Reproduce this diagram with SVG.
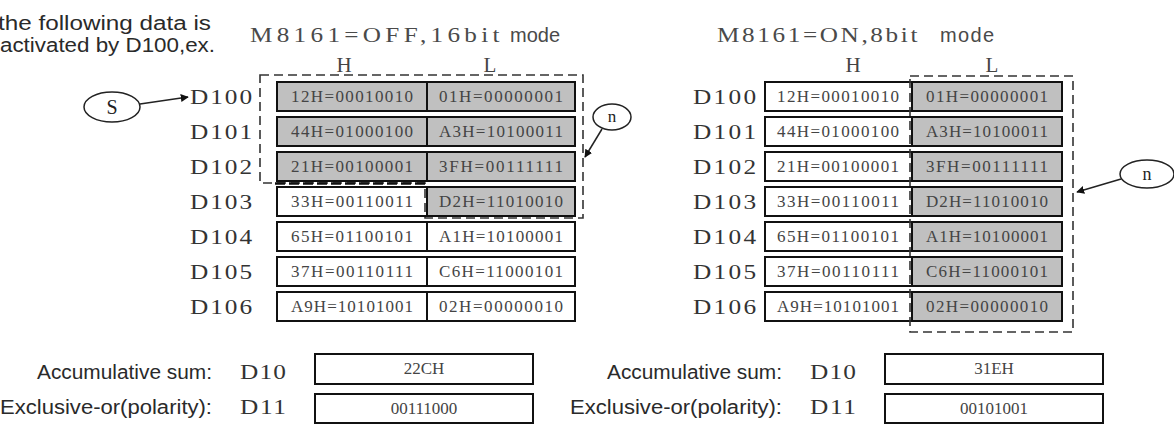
<svg xmlns="http://www.w3.org/2000/svg" width="1174" height="428" viewBox="0 0 1174 428">
<style>
.serif{font-family:"Liberation Serif","Times New Roman",serif}
.sans{font-family:"Liberation Sans",Arial,sans-serif}
.cell{stroke:#111;stroke-width:2}
.g{fill:#c0c0c0}
.w{fill:#fff}
.ct{font-size:17px;fill:#444;text-anchor:middle}
.dl{font-size:22px;fill:#333}
.hd{font-size:21px;fill:#444;text-anchor:middle}
.lab{font-size:20px;fill:#2a2a2a}
.ttl{font-size:21px;fill:#4a4a4a}
.dash{fill:none;stroke:#333;stroke-width:1.6;stroke-dasharray:9 5}
.dashb{fill:none;stroke:#111;stroke-width:2.6;stroke-dasharray:10 4}
.ell{fill:#fff;stroke:#222;stroke-width:1.5}
.conn{fill:none;stroke:#222;stroke-width:1.5}
</style>
<defs>
<marker id="ah" viewBox="0 0 10 10" refX="9" refY="5" markerWidth="8" markerHeight="8" orient="auto" markerUnits="userSpaceOnUse">
<path d="M0,0 L10,5 L0,10 z" fill="#111"/>
</marker>
</defs>

<g id="intro">
<text class="sans lab" x="-2" y="30" textLength="213" lengthAdjust="spacingAndGlyphs">the following data is</text>
<text class="sans lab" x="0" y="52" textLength="215" lengthAdjust="spacingAndGlyphs">activated by D100,ex.</text>
</g>

<g id="title-left">
<text class="serif ttl" transform="translate(250,42) scale(1.2,1)" x="0" y="0" textLength="208" lengthAdjust="spacing">M8161=OFF,16bit</text>
<text class="sans" x="510" y="42" font-size="20" fill="#4a4a4a">mode</text>
<text class="serif hd" x="344" y="72">H</text>
<text class="serif hd" x="490" y="72">L</text>
</g>

<g id="title-right">
<text class="serif ttl" transform="translate(717,42) scale(1.2,1)" x="0" y="0" textLength="167" lengthAdjust="spacing">M8161=ON,8bit</text>
<text class="sans" x="940" y="42" font-size="20" fill="#4a4a4a" textLength="54" lengthAdjust="spacing">mode</text>
<text class="serif hd" x="853" y="72">H</text>
<text class="serif hd" x="992" y="72">L</text>
</g>

<g id="table-left">
<g id="L-D100"><text class="serif dl" transform="translate(190,104) scale(1.15,1)" textLength="54" lengthAdjust="spacing">D100</text><rect class="cell g" x="277" y="82" width="150" height="29"/><rect class="cell g" x="427" y="82" width="148" height="29"/><text class="serif ct" x="352" y="102" textLength="122" lengthAdjust="spacing">12H=00010010</text><text class="serif ct" x="501" y="102" textLength="124" lengthAdjust="spacing">01H=00000001</text></g>
<g id="L-D101"><text class="serif dl" transform="translate(190,139) scale(1.15,1)" textLength="54" lengthAdjust="spacing">D101</text><rect class="cell g" x="277" y="117" width="150" height="29"/><rect class="cell g" x="427" y="117" width="148" height="29"/><text class="serif ct" x="352" y="137" textLength="122" lengthAdjust="spacing">44H=01000100</text><text class="serif ct" x="501" y="137" textLength="124" lengthAdjust="spacing">A3H=10100011</text></g>
<g id="L-D102"><text class="serif dl" transform="translate(190,174) scale(1.15,1)" textLength="54" lengthAdjust="spacing">D102</text><rect class="cell g" x="277" y="152" width="150" height="29"/><rect class="cell g" x="427" y="152" width="148" height="29"/><text class="serif ct" x="352" y="172" textLength="122" lengthAdjust="spacing">21H=00100001</text><text class="serif ct" x="501" y="172" textLength="124" lengthAdjust="spacing">3FH=00111111</text></g>
<g id="L-D103"><text class="serif dl" transform="translate(190,209) scale(1.15,1)" textLength="54" lengthAdjust="spacing">D103</text><rect class="cell w" x="277" y="187" width="150" height="29"/><rect class="cell g" x="427" y="187" width="148" height="29"/><text class="serif ct" x="352" y="207" textLength="122" lengthAdjust="spacing">33H=00110011</text><text class="serif ct" x="501" y="207" textLength="124" lengthAdjust="spacing">D2H=11010010</text></g>
<g id="L-D104"><text class="serif dl" transform="translate(190,244) scale(1.15,1)" textLength="54" lengthAdjust="spacing">D104</text><rect class="cell w" x="277" y="222" width="150" height="29"/><rect class="cell w" x="427" y="222" width="148" height="29"/><text class="serif ct" x="352" y="242" textLength="122" lengthAdjust="spacing">65H=01100101</text><text class="serif ct" x="501" y="242" textLength="124" lengthAdjust="spacing">A1H=10100001</text></g>
<g id="L-D105"><text class="serif dl" transform="translate(190,279) scale(1.15,1)" textLength="54" lengthAdjust="spacing">D105</text><rect class="cell w" x="277" y="257" width="150" height="29"/><rect class="cell w" x="427" y="257" width="148" height="29"/><text class="serif ct" x="352" y="277" textLength="122" lengthAdjust="spacing">37H=00110111</text><text class="serif ct" x="501" y="277" textLength="124" lengthAdjust="spacing">C6H=11000101</text></g>
<g id="L-D106"><text class="serif dl" transform="translate(190,314) scale(1.15,1)" textLength="54" lengthAdjust="spacing">D106</text><rect class="cell w" x="277" y="292" width="150" height="29"/><rect class="cell w" x="427" y="292" width="148" height="29"/><text class="serif ct" x="352" y="312" textLength="122" lengthAdjust="spacing">A9H=10101001</text><text class="serif ct" x="501" y="312" textLength="124" lengthAdjust="spacing">02H=00000010</text></g>
</g>

<g id="table-right">
<g id="R-D100"><text class="serif dl" transform="translate(693,104) scale(1.15,1)" textLength="55" lengthAdjust="spacing">D100</text><rect class="cell w" x="765" y="82" width="147" height="29"/><rect class="cell g" x="912" y="82" width="150" height="29"/><text class="serif ct" x="838" y="102" textLength="122" lengthAdjust="spacing">12H=00010010</text><text class="serif ct" x="987" y="102" textLength="122" lengthAdjust="spacing">01H=00000001</text></g>
<g id="R-D101"><text class="serif dl" transform="translate(693,139) scale(1.15,1)" textLength="55" lengthAdjust="spacing">D101</text><rect class="cell w" x="765" y="117" width="147" height="29"/><rect class="cell g" x="912" y="117" width="150" height="29"/><text class="serif ct" x="838" y="137" textLength="122" lengthAdjust="spacing">44H=01000100</text><text class="serif ct" x="987" y="137" textLength="122" lengthAdjust="spacing">A3H=10100011</text></g>
<g id="R-D102"><text class="serif dl" transform="translate(693,174) scale(1.15,1)" textLength="55" lengthAdjust="spacing">D102</text><rect class="cell w" x="765" y="152" width="147" height="29"/><rect class="cell g" x="912" y="152" width="150" height="29"/><text class="serif ct" x="838" y="172" textLength="122" lengthAdjust="spacing">21H=00100001</text><text class="serif ct" x="987" y="172" textLength="122" lengthAdjust="spacing">3FH=00111111</text></g>
<g id="R-D103"><text class="serif dl" transform="translate(693,209) scale(1.15,1)" textLength="55" lengthAdjust="spacing">D103</text><rect class="cell w" x="765" y="187" width="147" height="29"/><rect class="cell g" x="912" y="187" width="150" height="29"/><text class="serif ct" x="838" y="207" textLength="122" lengthAdjust="spacing">33H=00110011</text><text class="serif ct" x="987" y="207" textLength="122" lengthAdjust="spacing">D2H=11010010</text></g>
<g id="R-D104"><text class="serif dl" transform="translate(693,244) scale(1.15,1)" textLength="55" lengthAdjust="spacing">D104</text><rect class="cell w" x="765" y="222" width="147" height="29"/><rect class="cell g" x="912" y="222" width="150" height="29"/><text class="serif ct" x="838" y="242" textLength="122" lengthAdjust="spacing">65H=01100101</text><text class="serif ct" x="987" y="242" textLength="122" lengthAdjust="spacing">A1H=10100001</text></g>
<g id="R-D105"><text class="serif dl" transform="translate(693,279) scale(1.15,1)" textLength="55" lengthAdjust="spacing">D105</text><rect class="cell w" x="765" y="257" width="147" height="29"/><rect class="cell g" x="912" y="257" width="150" height="29"/><text class="serif ct" x="838" y="277" textLength="122" lengthAdjust="spacing">37H=00110111</text><text class="serif ct" x="987" y="277" textLength="122" lengthAdjust="spacing">C6H=11000101</text></g>
<g id="R-D106"><text class="serif dl" transform="translate(693,314) scale(1.15,1)" textLength="55" lengthAdjust="spacing">D106</text><rect class="cell w" x="765" y="292" width="147" height="29"/><rect class="cell g" x="912" y="292" width="150" height="29"/><text class="serif ct" x="838" y="312" textLength="122" lengthAdjust="spacing">A9H=10101001</text><text class="serif ct" x="987" y="312" textLength="122" lengthAdjust="spacing">02H=00000010</text></g>
</g>

<g id="range-left">
<path class="dash" d="M260,75 H583 V218 H425 V183 H260 Z"/>
<path class="dashb" d="M275,183.5 H425"/>
</g>
<g id="range-right">
<path class="dash" d="M910,76 H1073 V332 H910 Z"/>
</g>

<g id="S">
<ellipse class="ell" cx="112" cy="107" rx="28" ry="15"/>
<text class="serif" x="112" y="114" font-size="20" fill="#222" text-anchor="middle">S</text>
</g>
<g id="n-left">
<ellipse class="ell" cx="612" cy="117" rx="19" ry="13"/>
<text class="serif" x="612" y="122" font-size="17" fill="#222" text-anchor="middle">n</text>
</g>
<g id="n-right">
<ellipse class="ell" cx="1147" cy="174" rx="27" ry="14"/>
<text class="serif" x="1147" y="180" font-size="18" fill="#222" text-anchor="middle">n</text>
</g>

<g id="connectors">
<path class="conn" d="M140,104 L188,97" marker-end="url(#ah)"/>
<path class="conn" d="M602,129 L585,157" marker-end="url(#ah)"/>
<path class="conn" d="M1121,179 L1077,192" marker-end="url(#ah)"/>
</g>

<g id="result-left">
<text class="sans lab" x="212" y="379" text-anchor="end" textLength="175" lengthAdjust="spacingAndGlyphs">Accumulative sum:</text>
<text class="serif dl" transform="translate(240,379) scale(1.15,1)" font-size="21" textLength="40" lengthAdjust="spacing">D10</text>
<rect x="315" y="354" width="218" height="30" fill="#fff" stroke="#111" stroke-width="2"/>
<text class="serif ct" x="424" y="374">22CH</text>
<text class="sans lab" x="212" y="414" text-anchor="end" textLength="212" lengthAdjust="spacingAndGlyphs">Exclusive-or(polarity):</text>
<text class="serif dl" transform="translate(240,414) scale(1.15,1)" font-size="21" textLength="40" lengthAdjust="spacing">D11</text>
<rect x="315" y="394" width="218" height="29" fill="#fff" stroke="#111" stroke-width="2"/>
<text class="serif ct" x="424" y="414">00111000</text>
</g>

<g id="result-right">
<text class="sans lab" x="782" y="379" text-anchor="end" textLength="175" lengthAdjust="spacingAndGlyphs">Accumulative sum:</text>
<text class="serif dl" transform="translate(810,379) scale(1.15,1)" font-size="21" textLength="40" lengthAdjust="spacing">D10</text>
<rect x="885" y="354" width="218" height="30" fill="#fff" stroke="#111" stroke-width="2"/>
<text class="serif ct" x="994" y="374">31EH</text>
<text class="sans lab" x="782" y="414" text-anchor="end" textLength="212" lengthAdjust="spacingAndGlyphs">Exclusive-or(polarity):</text>
<text class="serif dl" transform="translate(810,414) scale(1.15,1)" font-size="21" textLength="40" lengthAdjust="spacing">D11</text>
<rect x="885" y="394" width="218" height="29" fill="#fff" stroke="#111" stroke-width="2"/>
<text class="serif ct" x="994" y="414">00101001</text>
</g>
</svg>
